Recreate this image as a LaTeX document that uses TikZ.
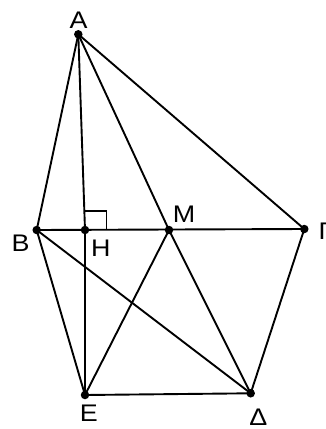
\documentclass[tikz,border=0pt]{standalone}
\usepackage{fontspec}
\setmainfont{Liberation Sans}[FakeStretch=1.12]
\begin{document}
\begin{tikzpicture}[x=1pt,y=-1pt,
  pt/.style={circle,fill=black,inner sep=0pt,minimum size=8.5pt},
  seg/.style={line width=1.9pt},
  lbl/.style={font=\fontsize{24}{24}\selectfont,inner sep=0pt}]
\useasboundingbox (0,0) rectangle (325,429);
\node[pt] (A) at (78.3,34.3) {};
\node[pt] (B) at (36.7,230) {};
\node[pt] (H) at (85,230) {};
\node[pt] (M) at (169,230) {};
\node[pt] (G) at (304.3,229) {};
\node[pt] (E) at (85,395) {};
\node[pt] (D) at (250.7,393.3) {};
\coordinate (R1) at (85,211);
\coordinate (R2) at (106.5,211);
\coordinate (R3) at (106.5,230);
\draw[seg] (A.center) -- (B.center);
\draw[seg] (A.center) -- (H.center);
\draw[seg] (H.center) -- (E.center);
\draw[seg] (A.center) -- (M.center);
\draw[seg] (A.center) -- (G.center);
\draw[seg] (B.center) -- (G.center);
\draw[seg] (B.center) -- (E.center);
\draw[seg] (B.center) -- (D.center);
\draw[seg] (M.center) -- (E.center);
\draw[seg] (M.center) -- (D.center);
\draw[seg] (G.center) -- (D.center);
\draw[seg] (E.center) -- (D.center);
\draw[line width=1.7pt] (R1) -- (R2) -- (R3);
\node[lbl] (lA) at (78.7,20) {A};
\node[lbl] (lB) at (20.5,243.3) {B};
\node[lbl] (lH) at (100.8,248.3) {H};
\node[lbl] (lM) at (184,214.7) {M};
\node[lbl,anchor=west] (lG) at (318.5,231.7) {Γ};
\node[lbl] (lE) at (88.8,413.5) {E};
\node[lbl] (lD) at (258.3,417.5) {Δ};
\end{tikzpicture}
\end{document}
